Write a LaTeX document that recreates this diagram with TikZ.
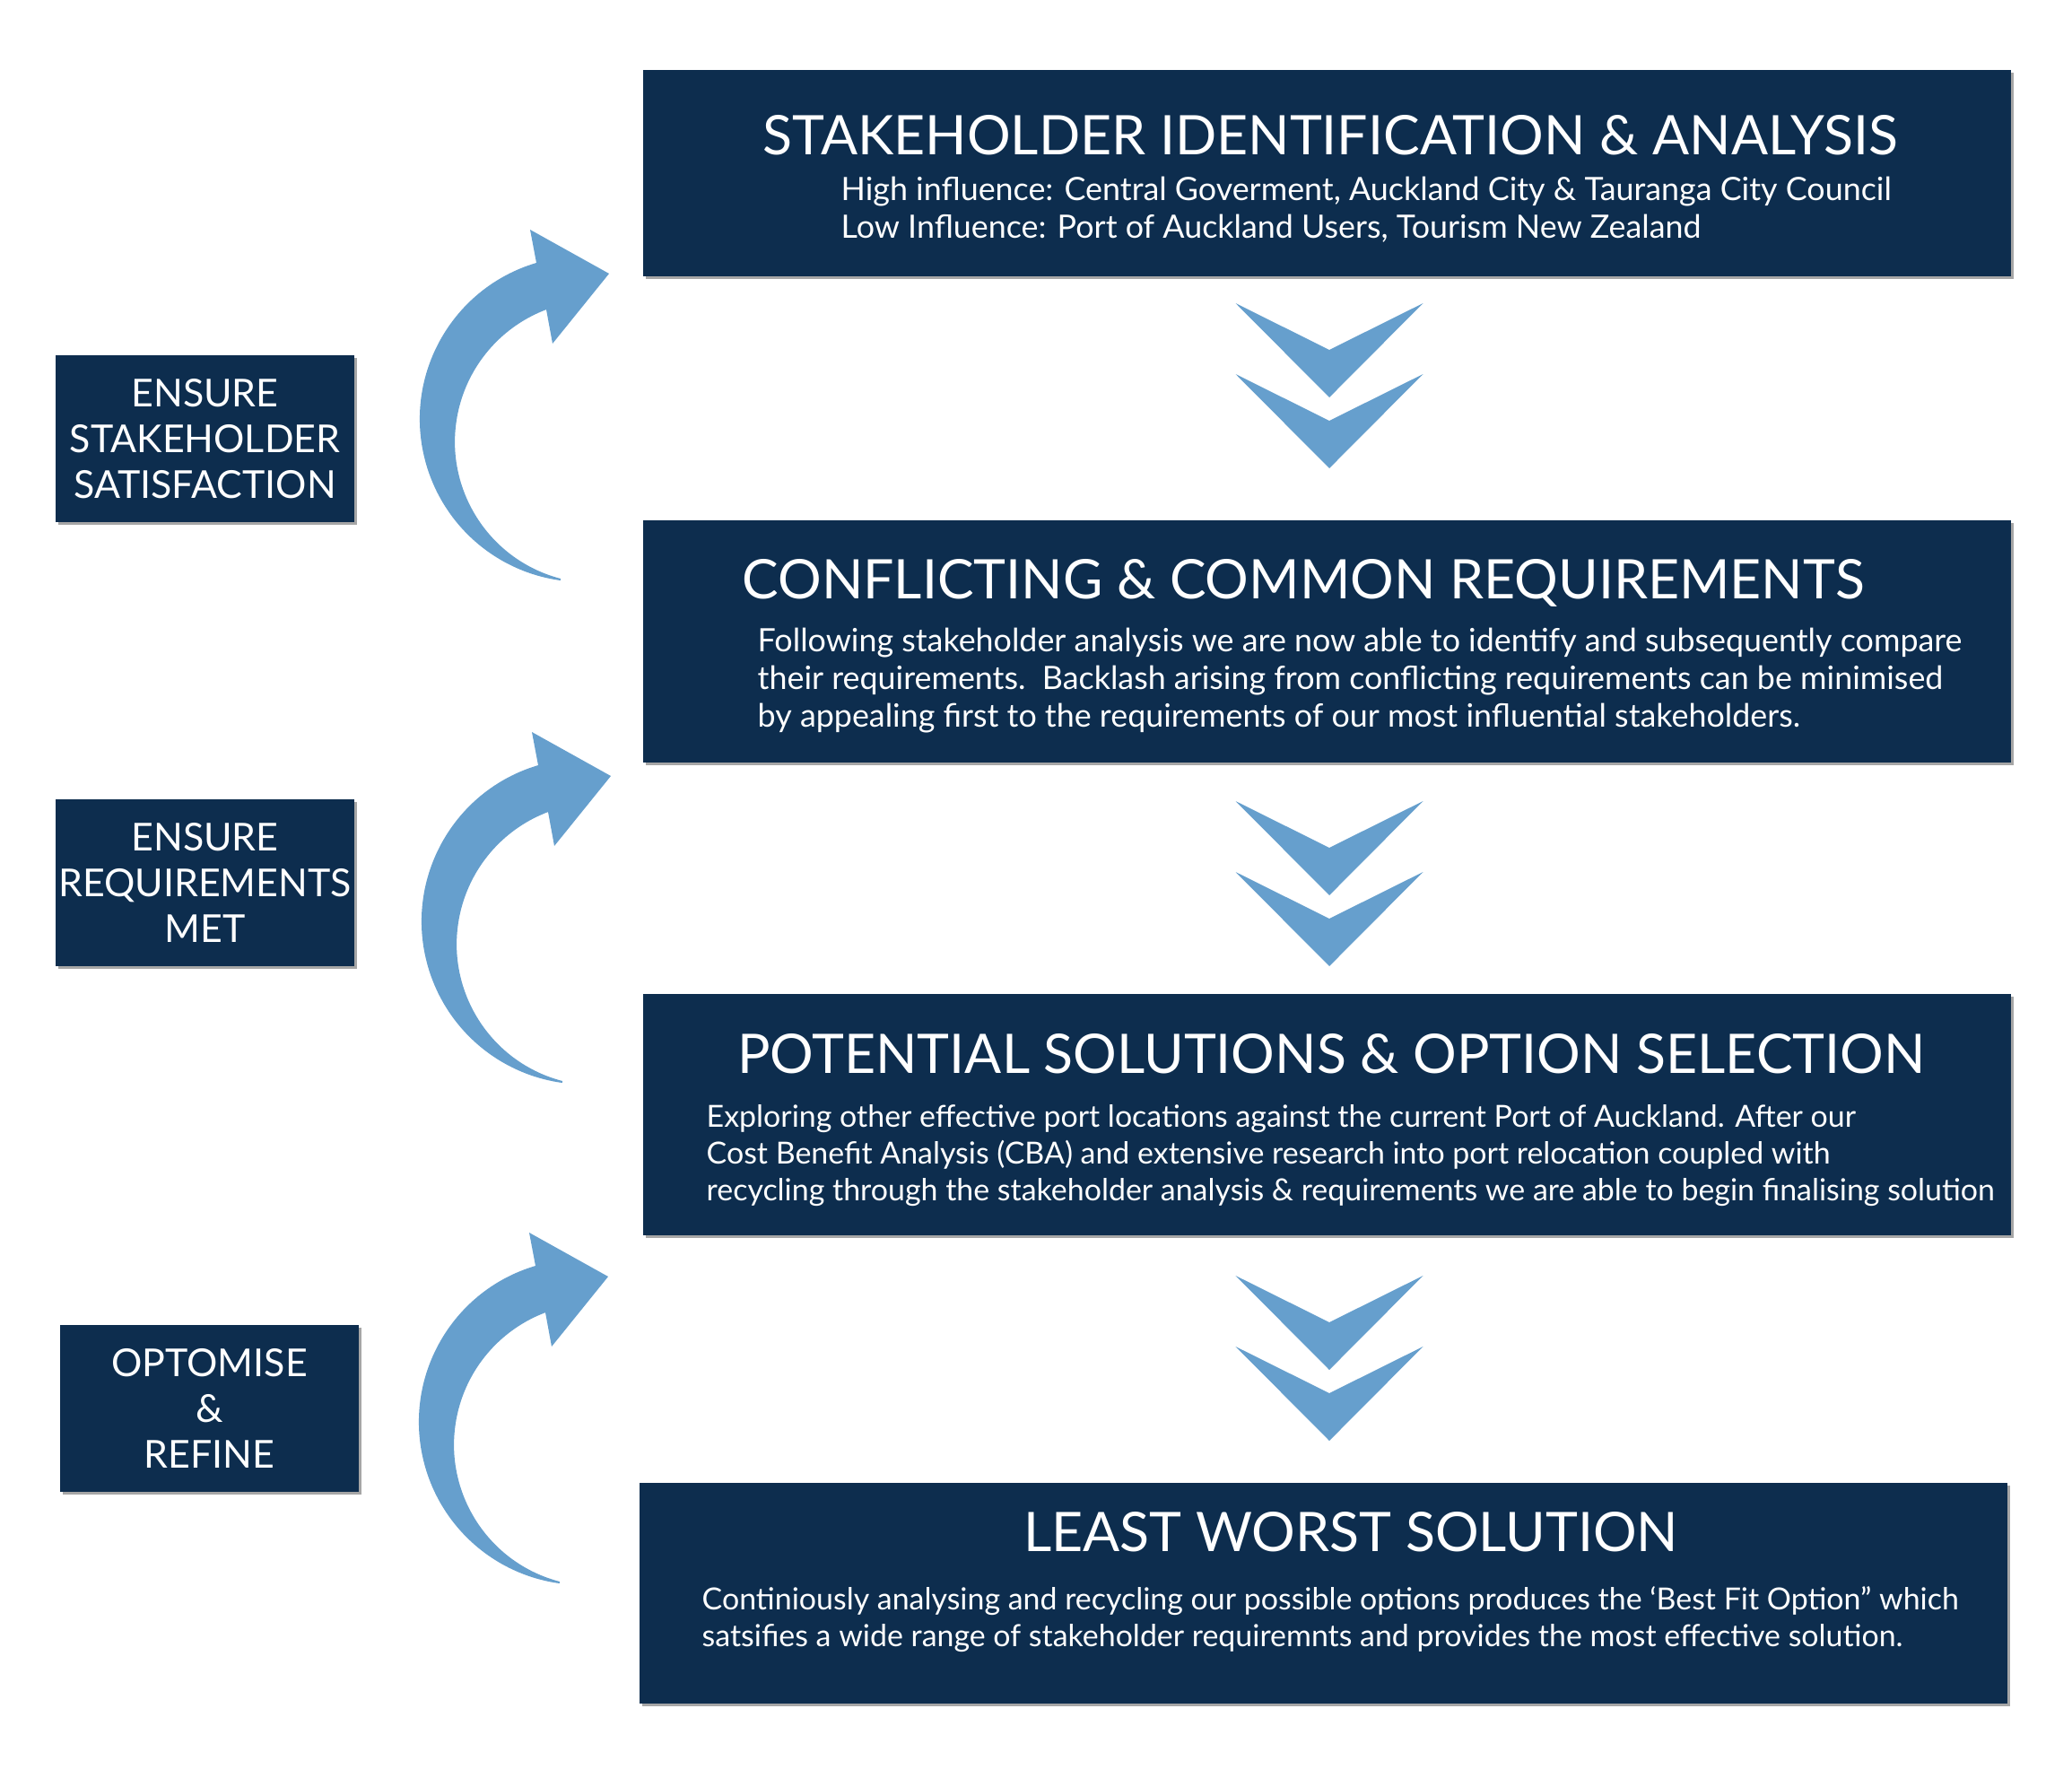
\documentclass[tikz,border=0pt]{standalone}
\usepackage{fontspec}
\setmainfont{Lato}
\usepackage{tikz}
\usetikzlibrary{shadows,positioning}

\definecolor{navy}{HTML}{0D2D4E}
\definecolor{arrowblue}{HTML}{669FCD}

% curved feedback arrow, origin at the head tip
\tikzset{
  bendarrow/.pic={
    \fill[arrowblue] (0,0) -- (-0.88,0.49) -- (-0.81,0.12)
      arc[start angle=106.5, end angle=262.2, radius=1.816]
      -- (-0.54,-3.40)
      arc[start angle=255.4, end angle=110.7, radius=1.576]
      -- (-0.63,-0.78) -- cycle;
  },
  chevrons/.pic={
    \foreach \dy in {0,-0.79}{
      \fill[arrowblue] (-1.045,\dy) -- (0,\dy-1.05) -- (1.045,\dy) -- (0,\dy-0.52) -- cycle;
    }
  }
}

\begin{document}
\begin{tikzpicture}[
  every node/.style={text=white},
  boxshadow/.style={drop shadow={shadow xshift=0.03cm, shadow yshift=-0.03cm, opacity=0.35, fill=black}},
  mainbox/.style={fill=navy, minimum width=15.25cm, inner sep=0pt, boxshadow},
  sidebox/.style={fill=navy, minimum width=3.33cm, minimum height=1.86cm, inner sep=0pt, align=center, font=\fontsize{12.2}{14.5}\selectfont, boxshadow},
  boxtitle/.style={anchor=base, inner sep=0pt, font=\fontsize{17.3}{21}\selectfont},
  boxtext/.style={anchor=base west, inner sep=0pt, align=left, font=\fontsize{10.2}{11.9}\selectfont},
  smalltext/.style={boxtext, font=\fontsize{9.65}{11.6}\selectfont}
]
\useasboundingbox (0,0) rectangle (23.10,-19.91);

% Main steps (text nodes sit on the baseline of their last line)
\node[mainbox, minimum height=2.30cm] (ident) at (14.795,-1.93) {};
\node[boxtitle] (identtitle) at (14.83,-1.72) {STAKEHOLDER IDENTIFICATION \& ANALYSIS};
\node[boxtext] (identtext) at (9.37,-2.65) {High influence: Central Goverment, Auckland City \& Tauranga City Council\\
Low Influence: Port of Auckland Users, Tourism New Zealand};

\node[mainbox, minimum height=2.70cm] (reqs) at (14.795,-7.15) {};
\node[boxtitle] (reqstitle) at (14.53,-6.67) {CONFLICTING \& COMMON REQUIREMENTS};
\node[boxtext] (reqstext) at (8.44,-8.10) {Following stakeholder analysis we are now able to identify and subsequently compare\\
their requirements.\ \ Backlash arising from conflicting requirements can be minimised\\
by appealing first to the requirements of our most influential stakeholders.};

\node[mainbox, minimum height=2.69cm] (options) at (14.795,-12.425) {};
\node[boxtitle] (optionstitle) at (14.84,-11.96) {POTENTIAL SOLUTIONS \& OPTION SELECTION};
\node[smalltext] (optionstext) at (7.87,-13.38) {Exploring other effective port locations against the current Port of Auckland. After our\\
Cost Benefit Analysis (CBA) and extensive research into port relocation coupled with\\
recycling through the stakeholder analysis \& requirements we are able to begin finalising solution};

\node[mainbox, minimum height=2.46cm] (least) at (14.755,-17.76) {};
\node[boxtitle] (leasttitle) at (15.06,-17.29) {LEAST WORST SOLUTION};
\node[smalltext] (leasttext) at (7.82,-18.35) {Continiously analysing and recycling our possible options produces the ‘Best Fit Option” which\\
satsifies a wide range of stakeholder requiremnts and provides the most effective solution.};

% Side labels
\node[sidebox] (satisfy) at (2.285,-4.89) {ENSURE\\STAKEHOLDER\\SATISFACTION};
\node[sidebox] (met) at (2.285,-9.84) {ENSURE\\REQUIREMENTS\\MET};
\node[sidebox] (refine) at (2.335,-15.695) {OPTOMISE\\\&\\REFINE};

% Feedback arrows
\pic (loop1) at (6.79,-3.05) {bendarrow};
\pic (loop2) at (6.81,-8.65) {bendarrow};
\pic (loop3) at (6.78,-14.23) {bendarrow};

% Downward chevrons
\pic (down1) at (14.82,-3.38) {chevrons};
\pic (down2) at (14.82,-8.93) {chevrons};
\pic (down3) at (14.82,-14.22) {chevrons};

\end{tikzpicture}
\end{document}
